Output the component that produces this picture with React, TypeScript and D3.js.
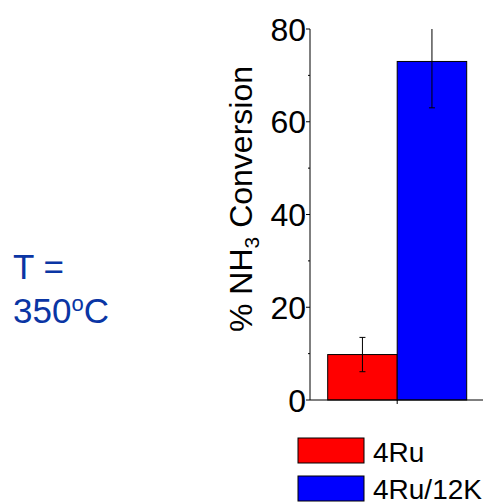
import React from 'react';
import * as d3 from 'd3';

const categories = ['4Ru', '4Ru/12K'];
const values = [9.8, 73];
const errors = [3.7, 10];
const colors = ['#ff0000', '#0000ff'];
const yTicks = [0, 20, 40, 60, 80];
const yMinorTicks = [10, 30, 50, 70];

const W = 497;
const H = 502;
const margin = { left: 310, right: 14, top: 29, bottom: 102 };

export default function App() {
  const x = d3.scaleBand<string>().domain(categories).range([327.7, 466.7]).padding(0);
  const y = d3.scaleLinear().domain([0, 80]).range([H - margin.bottom, margin.top]);
  const font = 'Arial, "Liberation Sans", sans-serif';
  const axisRight = W - margin.right;
  const midX = x('4Ru/12K')!;

  return (
    <svg width={W} height={H} style={{ position: 'absolute', left: 0, top: 0 }} fontFamily={font}>
      <rect width={W} height={H} fill="#fff" />
      {/* temperature label */}
      <text x={13} y={279} fontSize={35} fill="#0a35a4">T =</text>
      <text x={13} y={323} fontSize={35} fill="#0a35a4">
        350<tspan fontSize={22} dy={-12}>o</tspan><tspan dy={12}>C</tspan>
      </text>

      {/* bars */}
      {categories.map((c, i) => (
        <rect key={c} x={x(c)} y={y(values[i])} width={x.bandwidth()} height={y(0) - y(values[i])}
          fill={colors[i]} stroke="#000" strokeWidth={1} />
      ))}

      {/* error bars */}
      {categories.map((c, i) => {
        const cx = x(c)! + x.bandwidth() / 2;
        const top = Math.min(80, values[i] + errors[i]);
        const bot = values[i] - errors[i];
        return (
          <g key={c} stroke="#000" strokeWidth={1}>
            <line x1={cx} x2={cx} y1={y(top)} y2={y(bot)} />
            {values[i] + errors[i] <= 80 && <line x1={cx - 3} x2={cx + 3} y1={y(top)} y2={y(top)} />}
            <line x1={cx - 3} x2={cx + 3} y1={y(bot)} y2={y(bot)} />
          </g>
        );
      })}

      {/* axes */}
      <g stroke="#000" strokeWidth={1}>
        <line x1={margin.left} x2={margin.left} y1={y(80)} y2={y(0)} />
        <line x1={margin.left} x2={axisRight} y1={y(0)} y2={y(0)} />
        <line x1={midX} x2={midX} y1={y(0)} y2={y(0) + 4} />
        {yTicks.map((t) => (
          <line key={t} x1={margin.left - 4} x2={margin.left} y1={y(t)} y2={y(t)} />
        ))}
        {yMinorTicks.map((t) => (
          <line key={t} x1={margin.left - 2} x2={margin.left} y1={y(t)} y2={y(t)} />
        ))}
      </g>
      {yTicks.map((t) => (
        <text key={t} x={margin.left - 4} y={y(t)} dy="0.36em" textAnchor="end" fontSize={32} fill="#000">
          {t}
        </text>
      ))}

      {/* y label */}
      <text transform={`translate(252,${(333 + 65) / 2}) rotate(-90)`} textAnchor="middle" fontSize={32} fill="#000">
        % NH<tspan fontSize={21} dy={7}>3</tspan><tspan dy={-7}> Conversion</tspan>
      </text>

      {/* legend */}
      {categories.map((c, i) => (
        <g key={c}>
          <rect x={298} y={438 + i * 38} width={66} height={25} fill={colors[i]} stroke="#000" strokeWidth={1} />
          <text x={373} y={462 + i * 37} fontSize={28} fill="#000">{c}</text>
        </g>
      ))}
    </svg>
  );
}
